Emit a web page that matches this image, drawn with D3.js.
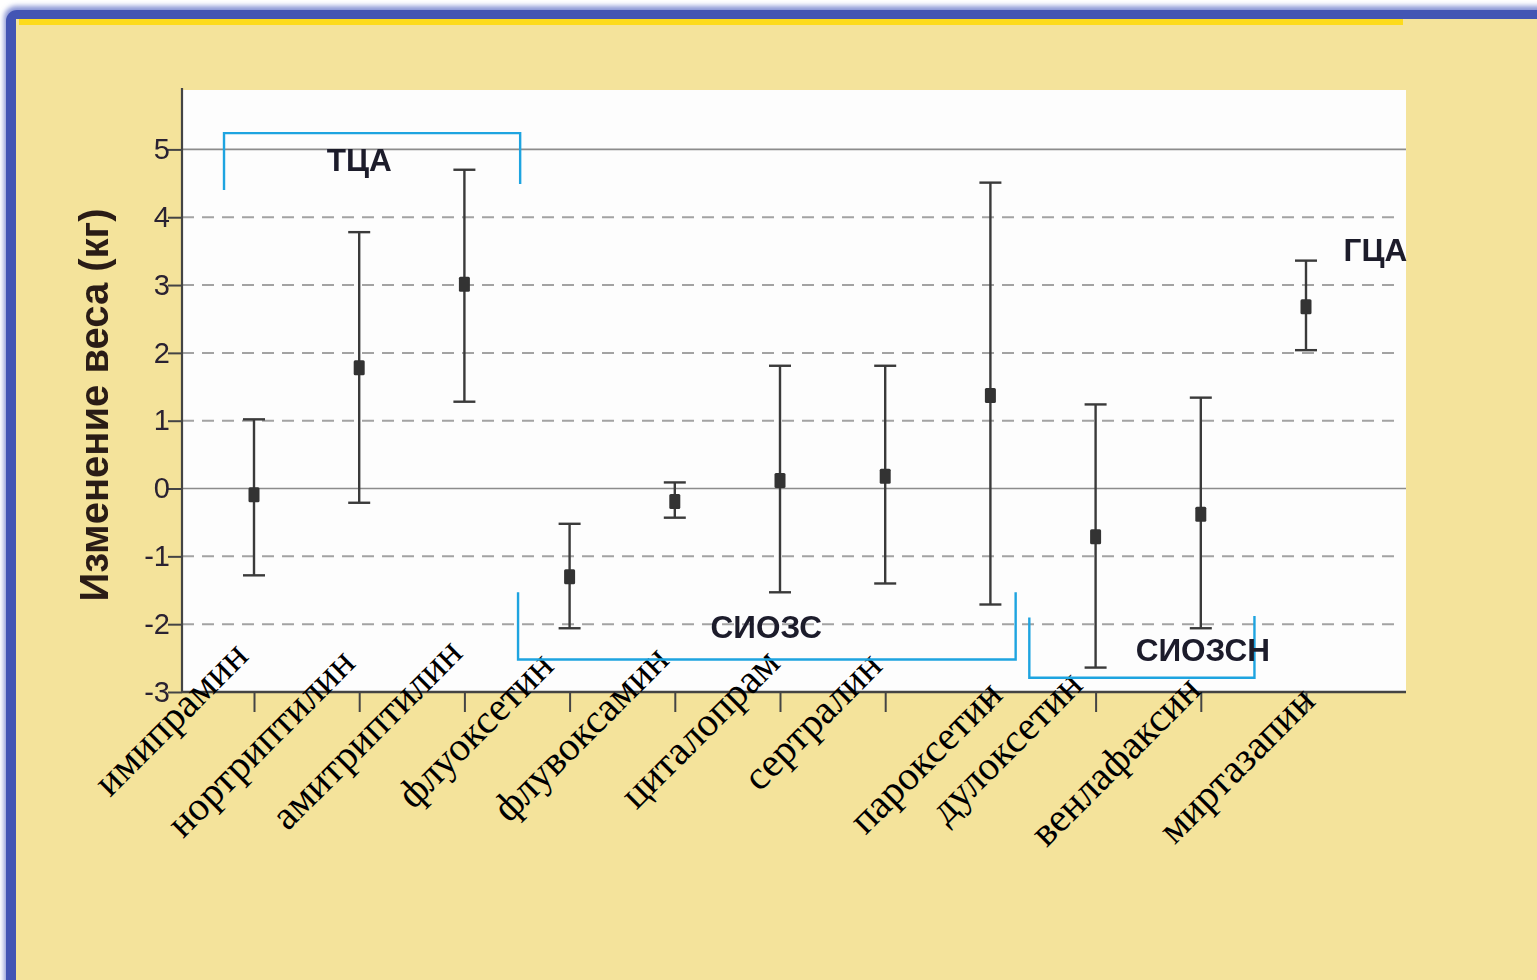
<!DOCTYPE html>
<html lang="ru">
<head>
<meta charset="utf-8">
<title>Изменение веса при приёме антидепрессантов</title>
<script src="https://cdn.jsdelivr.net/npm/d3@7"></script>
<style>
  html, body { margin: 0; padding: 0; background: #ffffff; overflow: hidden; }
  svg { display: block; }
</style>
</head>
<body>
<script>
// Drugs along the x axis
const categories = ["имипрамин", "нортриптилин", "амитриптилин", "флуоксетин", "флувоксамин",
  "циталопрам", "сертралин", "пароксетин", "дулоксетин", "венлафаксин", "миртазапин"];
// Mean weight change, kg
const means = [-0.09, 1.78, 3.01, -1.30, -0.19, 0.12, 0.18, 1.37, -0.71, -0.38, 2.68];
// Upper and lower ends of the intervals, kg
const upper = [1.02, 3.78, 4.70, -0.52, 0.09, 1.81, 1.81, 4.51, 1.24, 1.34, 3.36];
const lower = [-1.28, -0.21, 1.28, -2.06, -0.43, -1.53, -1.40, -1.71, -2.64, -2.06, 2.04];
// Y axis ticks
const yTicks = [-3, -2, -1, 0, 1, 2, 3, 4, 5];
const solidLines = [0, 5];
// Drug classes
const groupNames = ["ТЦА", "СИОЗС", "СИОЗСН", "ГЦА"];

// Class brackets and captions (x in category-index units, y in kg)
const brackets = [
  { from: -0.285, to: 2.53, base: 5.24, ends: [4.40, 4.49] },
  { from: 2.51, to: 7.24, base: -2.52, ends: [-1.53, -1.53] },
  { from: 7.37, to: 9.51, base: -2.79, ends: [-1.90, -1.88] },
  null
];
const captions = [[1.0, 4.68], [4.87, -2.20], [9.02, -2.54], [10.66, 3.35]];
// Per-label nudges of the rotated drug names (px)
const labelNudge = [[-4, -34], [-2, -27], [0, -37], [-14, -24], [-4, -30], [2, -27],
  [-1, -24], [14, 5], [-11, -5], [2, 0], [11, 11]];

const W = 1537, H = 980;
const plot = { left: 182, right: 1406, top: 90, bottom: 692 };

const svg = d3.select("body").append("svg").attr("width", W).attr("height", H);
const defs = svg.append("defs");
defs.append("filter").attr("id", "soft").attr("x", "-5%").attr("y", "-5%").attr("width", "110%").attr("height", "110%")
  .append("feGaussianBlur").attr("stdDeviation", 2.5);
defs.append("filter").attr("id", "fringe")
  .append("feGaussianBlur").attr("stdDeviation", 0.45);

// Slide frame: blue border, beige panel, yellow top stripe
svg.append("rect").attr("x", 4).attr("y", 6).attr("width", W + 40).attr("height", H + 40)
  .attr("rx", 12).attr("fill", "#8a96d6").attr("filter", "url(#soft)");
svg.append("rect").attr("x", 6).attr("y", 10).attr("width", W + 40).attr("height", H + 40)
  .attr("rx", 11).attr("fill", "#4355b4");
svg.append("rect").attr("x", 16).attr("y", 19).attr("width", W).attr("height", H)
  .attr("fill", "#f4e39b");
svg.append("rect").attr("x", 19).attr("y", 19).attr("width", 1384).attr("height", 6)
  .attr("fill", "#fddb1c").attr("filter", "url(#fringe)");

// Plot background
svg.append("rect").attr("x", plot.left).attr("y", plot.top)
  .attr("width", plot.right - plot.left).attr("height", plot.bottom - plot.top)
  .attr("fill", "#fdfdfd");

const idx = d3.scaleLinear().domain([0, categories.length - 1]).range([254, 1306]);
const x = d => idx(categories.indexOf(d));
const y = d3.scaleLinear().domain([-3, 5]).range([692, 149.4]);

// Gridlines
const grid = svg.append("g");
grid.selectAll("line").data(yTicks.filter(t => t !== -3)).join("line")
  .attr("x1", plot.left).attr("x2", d => solidLines.includes(d) ? plot.right : plot.right - 8)
  .attr("y1", d => y(d)).attr("y2", d => y(d))
  .attr("stroke", d => solidLines.includes(d) ? "#8c8c8c" : "#a3a3a3")
  .attr("stroke-width", d => solidLines.includes(d) ? 1.6 : 2)
  .attr("stroke-dasharray", d => solidLines.includes(d) ? null : "12,8");

// Y axis
const yAxis = svg.append("g").attr("transform", `translate(${plot.left},0)`)
  .call(d3.axisLeft(y).tickValues(yTicks).tickSize(14).tickPadding(-2).tickFormat(d => String(d)));
yAxis.select(".domain").attr("d", `M0,${plot.top - 2}V${plot.bottom}`)
  .attr("stroke", "#444").attr("stroke-width", 2.2);
yAxis.selectAll(".tick line").attr("stroke", "#444").attr("stroke-width", 2);
yAxis.selectAll(".tick text").attr("fill", "#2a2230")
  .style("font-family", "'Liberation Sans', Arial, sans-serif").style("font-size", "29px")
  .attr("filter", "url(#fringe)");

// X axis with ticks below the line
const xAxis = svg.append("g").attr("transform", `translate(0,${plot.bottom})`)
  .call(d3.axisBottom(d3.scalePoint().domain(categories).range([idx(0), idx(categories.length - 1)]))
    .tickSize(20).tickFormat(""));
xAxis.select(".domain").attr("d", `M${plot.left},0H${plot.right}`)
  .attr("stroke", "#444").attr("stroke-width", 2.6);
xAxis.selectAll(".tick line").attr("stroke", "#444").attr("stroke-width", 2);

// Rotated drug names
svg.append("g").selectAll("text").data(categories).join("text")
  .attr("transform", (d, i) => `translate(${x(d) + labelNudge[i][0]},${plot.bottom + labelNudge[i][1]}) rotate(-45)`)
  .attr("text-anchor", "end")
  .attr("fill", "#000")
  .style("font-family", "'Liberation Serif', 'Times New Roman', serif")
  .style("font-size", "40.5px")
  .text(d => d);

// Y axis title
svg.append("text")
  .attr("transform", `translate(108,405) rotate(-90)`)
  .attr("text-anchor", "middle")
  .attr("fill", "#2a1d16")
  .attr("filter", "url(#fringe)")
  .style("font-family", "'Liberation Sans', Arial, sans-serif")
  .style("font-size", "40px").style("font-weight", "bold")
  .text("Изменение веса (кг)");

// Class brackets
const bracketLayer = svg.append("g").attr("fill", "none").attr("stroke", "#1ea4e0").attr("stroke-width", 2.4);
brackets.forEach(b => {
  if (!b) return;
  bracketLayer.append("path").attr("d",
    `M${idx(b.from)},${y(b.ends[0])}V${y(b.base)}H${idx(b.to)}V${y(b.ends[1])}`);
});

// Error bars
const bars = svg.append("g").attr("stroke", "#3a3a3a").attr("stroke-width", 2.4);
categories.forEach((c, i) => {
  const cx = x(c);
  bars.append("line").attr("x1", cx).attr("x2", cx).attr("y1", y(upper[i])).attr("y2", y(lower[i]));
  bars.append("line").attr("x1", cx - 11).attr("x2", cx + 11).attr("y1", y(upper[i])).attr("y2", y(upper[i]));
  bars.append("line").attr("x1", cx - 11).attr("x2", cx + 11).attr("y1", y(lower[i])).attr("y2", y(lower[i]));
});

// Mean markers
svg.append("g").selectAll("rect").data(categories).join("rect")
  .attr("x", d => x(d) - 5.5).attr("y", (d, i) => y(means[i]) - 7.5)
  .attr("width", 11).attr("height", 15).attr("rx", 1.5)
  .attr("fill", "#333");

// Class captions
svg.append("g").selectAll("text").data(groupNames).join("text")
  .attr("x", (d, i) => idx(captions[i][0]))
  .attr("y", (d, i) => y(captions[i][1]))
  .attr("text-anchor", "middle")
  .attr("fill", "#1b1a2c")
  .attr("filter", "url(#fringe)")
  .style("font-family", "'Liberation Sans', Arial, sans-serif")
  .style("font-size", "31.5px").style("font-weight", "bold")
  .text(d => d);
</script>
</body>
</html>
